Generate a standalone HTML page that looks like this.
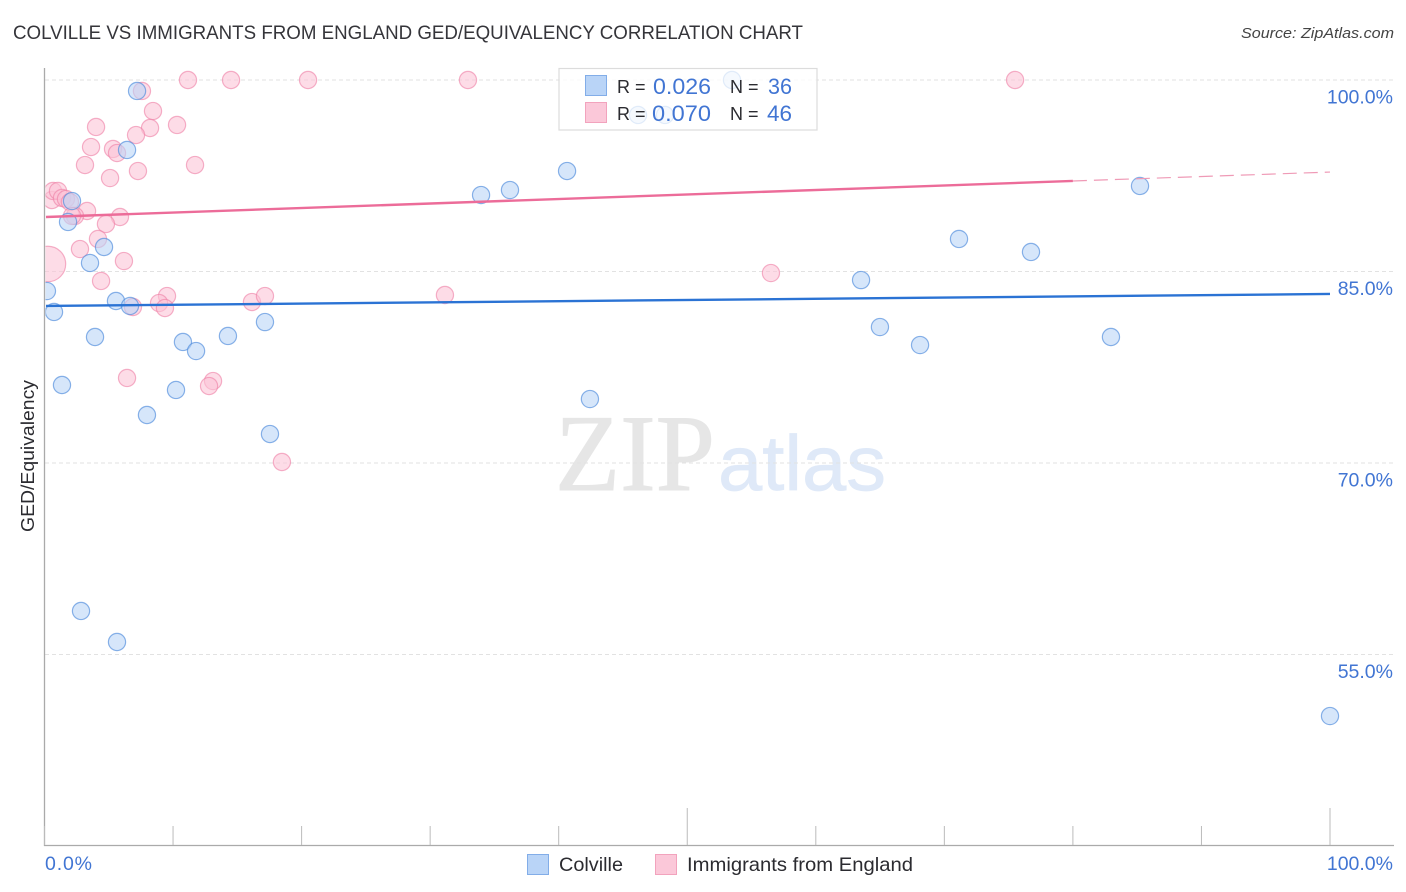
<!DOCTYPE html>
<html lang="en">
<head>
<meta charset="utf-8">
<title>Colville vs Immigrants from England GED/Equivalency Correlation Chart</title>
<style>
html,body{margin:0;padding:0;background:#fff;width:1406px;height:892px;overflow:hidden}
svg{display:block}
text{font-family:"Liberation Sans",sans-serif}
</style>
</head>
<body>
<svg id="chart" xmlns="http://www.w3.org/2000/svg" width="1406" height="892" viewBox="0 0 1406 892">
  <defs>
    <clipPath id="plot-clip"><rect x="45.5" y="60" width="1361" height="785"/></clipPath>
  </defs>
  <text x="13" y="39" font-size="19" fill="#35353a" textLength="790" lengthAdjust="spacingAndGlyphs">COLVILLE VS IMMIGRANTS FROM ENGLAND GED/EQUIVALENCY CORRELATION CHART</text>
  <text x="1394" y="38" font-size="15" font-style="italic" fill="#444" text-anchor="end" textLength="153" lengthAdjust="spacingAndGlyphs">Source: ZipAtlas.com</text>
  <g id="watermark">
    <text x="555" y="490" font-size="109" fill="#e6e6e6" stroke="#e6e6e6" stroke-width="1" style="font-family:'Liberation Serif',serif" textLength="160" lengthAdjust="spacingAndGlyphs">ZIP</text>
    <text x="718" y="490" font-size="78" fill="#dfe9f8" stroke="#dfe9f8" stroke-width="0.7" style="font-family:'Liberation Sans',sans-serif" textLength="168" lengthAdjust="spacingAndGlyphs">atlas</text>
  </g>
  <g id="grid"></g>
  <g id="points" clip-path="url(#plot-clip)"></g>
  <g id="trends"></g>
  <g id="axes"></g>
  <text transform="translate(34,456) rotate(-90)" font-size="18" fill="#2b2b30" text-anchor="middle" textLength="152" lengthAdjust="spacingAndGlyphs">GED/Equivalency</text>

  <g>
    <rect x="559" y="68.5" width="258" height="61.5" fill="#fff" fill-opacity="0.75" stroke="#dcdcdc" stroke-width="1.2"/>
    <rect x="585.5" y="75.5" width="21" height="20" fill="#b9d4f7" stroke="#82ade8" stroke-width="1"/>
    <rect x="585.5" y="102.5" width="21" height="20" fill="#fbc8d9" stroke="#f2a3bd" stroke-width="1"/>
    <text x="617" y="93" font-size="18" fill="#2b2b30">R =</text>
    <text x="653" y="94" font-size="22" fill="#4175d3" textLength="58" lengthAdjust="spacingAndGlyphs">0.026</text>
    <text x="730" y="93" font-size="18" fill="#2b2b30">N =</text>
    <text x="768" y="94" font-size="22" fill="#4175d3" textLength="24" lengthAdjust="spacingAndGlyphs">36</text>
    <text x="617" y="120" font-size="18" fill="#2b2b30">R =</text>
    <text x="652" y="121" font-size="22" fill="#4175d3" textLength="59" lengthAdjust="spacingAndGlyphs">0.070</text>
    <text x="730" y="120" font-size="18" fill="#2b2b30">N =</text>
    <text x="767" y="121" font-size="22" fill="#4175d3" textLength="25" lengthAdjust="spacingAndGlyphs">46</text>
  </g>

  <g>
    <rect x="527.5" y="854.5" width="21" height="20" fill="#b9d4f7" stroke="#82ade8" stroke-width="1"/>
    <text x="559" y="871" font-size="19.5" fill="#2b2b30" textLength="64" lengthAdjust="spacingAndGlyphs">Colville</text>
    <rect x="655.5" y="854.5" width="21" height="20" fill="#fbc8d9" stroke="#f2a3bd" stroke-width="1"/>
    <text x="687" y="871" font-size="19.5" fill="#2b2b30" textLength="226" lengthAdjust="spacingAndGlyphs">Immigrants from England</text>
  </g>
</svg>
<script>
const yTickValues = [100, 85, 70, 55];
const yTickLabels = ["100.0%", "85.0%", "70.0%", "55.0%"];
const xTickValues = [0, 10, 20, 30, 40, 50, 60, 70, 80, 90, 100];
const xEndValues = [0, 100];
const xEndLabels = ["0.0%", "100.0%"];

const colvilleX = [7.20,6.42,53.48,46.17,48.27,40.65,36.21,33.96,85.22,2.14,1.83,4.63,3.54,0.19,0.74,5.56,6.65,3.93,10.77,11.79,14.27,17.15,1.36,10.23,7.97,17.54,2.84,5.64,42.43,63.52,71.14,76.74,64.99,68.11,82.96,100];
const colvilleY = [99.14,94.52,100,97.26,97.26,92.87,91.38,90.99,91.70,90.52,88.88,86.92,85.67,83.47,81.83,82.69,82.30,79.87,79.48,78.77,79.95,81.04,76.11,75.72,73.76,72.27,58.41,55.98,75.01,84.33,87.55,86.53,80.65,79.24,79.87,50.18];

const englandX = [7.58,11.16,14.51,20.50,32.94,75.50,8.44,10.31,4.01,8.21,7.12,3.62,5.33,5.64,3.15,11.71,7.27,5.10,0.58,0.66,1.05,1.36,1.67,1.98,3.31,2.37,2.14,5.87,4.78,4.16,2.76,6.18,0.27,4.40,9.53,8.91,9.37,6.88,16.14,17.15,31.15,56.51,6.42,13.11,12.80,18.47];
const englandY = [99.14,100,100,100,100,100,97.57,96.48,96.32,96.24,95.69,94.75,94.60,94.28,93.34,93.34,92.87,92.32,90.60,91.31,91.31,90.76,90.68,90.44,89.74,89.35,89.35,89.27,88.72,87.55,86.76,85.82,85.59,84.26,83.08,82.53,82.14,82.22,82.61,83.08,83.16,84.88,76.66,76.42,76.03,70.08];
const englandWeight = [1,1,1,1,1,1,1,1,1,1,1,1,1,1,1,1,1,1,1,1,1,1,1,1,1,1,1,1,1,1,1,1,2.06,1,1,1,1,1,1,1,1,1,1,1,1,1];

const colvilleTrendX = [0, 100];
const colvilleTrendY = [82.30, 83.24];
const englandTrendX = [0, 80];
const englandTrendY = [89.27, 92.09];
const englandDashX = [80, 100];
const englandDashY = [92.09, 92.79];

const NS = "http://www.w3.org/2000/svg";
function xScale(v){ return 44.5 + v * 12.855; }
function yScale(v){ return 80 + (100 - v) * 12.767; }
function make(tag, attrs, parent){
  const el = document.createElementNS(NS, tag);
  for (const k in attrs) el.setAttribute(k, attrs[k]);
  parent.appendChild(el);
  return el;
}

const grid = document.getElementById("grid");
const axes = document.getElementById("axes");
const points = document.getElementById("points");
const trends = document.getElementById("trends");

yTickValues.forEach(function(v, i){
  const line = make("line", {x1:45, x2:1393, y1:yScale(v), y2:yScale(v), stroke:"#e2e2e2", "stroke-width":1, "stroke-dasharray":"4 3"}, grid);
  
  
  const label = make("text", {x:1393, y:yScale(v) + 23.5, "text-anchor":"end", "font-size":19.5, fill:"#4175d3"}, axes);
  
  
  label.textContent = yTickLabels[i];
});

const yAxisLine = make("line", {x1:44.5, x2:44.5, y1:68, y2:846, stroke:"#aaa", "stroke-width":1.3}, axes);


const xAxisLine = make("line", {x1:44, x2:1394, y1:845.5, y2:845.5, stroke:"#aaa", "stroke-width":1.3}, axes);



xTickValues.forEach(function(v){
  const major = (v === 50 || v === 100);
  const tick = make("line", {x1:xScale(v), x2:xScale(v), y1: major ? 808 : 826, y2:845, stroke:"#bbb", "stroke-width":1}, axes);
  
  
});

xEndValues.forEach(function(v, i){
  const label = make("text", {x: i === 0 ? 45 : 1393, y:870, "text-anchor": i === 0 ? "start" : "end", "font-size":19.5, fill:"#4175d3"}, axes);
  
  
  label.textContent = xEndLabels[i];
  if (i === 0) label.setAttribute('textLength', '47');
});

englandX.forEach(function(v, i){
  const dot = make("circle", {cx:xScale(v), cy:yScale(englandY[i]), r:8.6 * englandWeight[i], fill:"#fbc3d6", "fill-opacity":0.58, stroke:"#ee7fa5", "stroke-opacity":0.6, "stroke-width":1.2}, points);
  
  
});

colvilleX.forEach(function(v, i){
  const dot = make("circle", {cx:xScale(v), cy:yScale(colvilleY[i]), r:8.6, fill:"#b9d4f7", "fill-opacity":0.58, stroke:"#4d8bdc", "stroke-opacity":0.65, "stroke-width":1.2}, points);
  
  
});

const blueTrend = make("line", {x1:xScale(colvilleTrendX[0]) + 1.5, x2:xScale(colvilleTrendX[1]), y1:yScale(colvilleTrendY[0]), y2:yScale(colvilleTrendY[1]), stroke:"#2b73d4", "stroke-width":2.4}, trends);


const pinkTrend = make("line", {x1:xScale(englandTrendX[0]) + 1.5, x2:xScale(englandTrendX[1]), y1:yScale(englandTrendY[0]), y2:yScale(englandTrendY[1]), stroke:"#ec6c99", "stroke-width":2.4}, trends);


const pinkDash = make("line", {x1:xScale(englandDashX[0]), x2:xScale(englandDashX[1]), y1:yScale(englandDashY[0]), y2:yScale(englandDashY[1]), stroke:"#ef9ab6", "stroke-width":1.2, "stroke-dasharray":"14 7"}, trends);


</script>
</body>
</html>
